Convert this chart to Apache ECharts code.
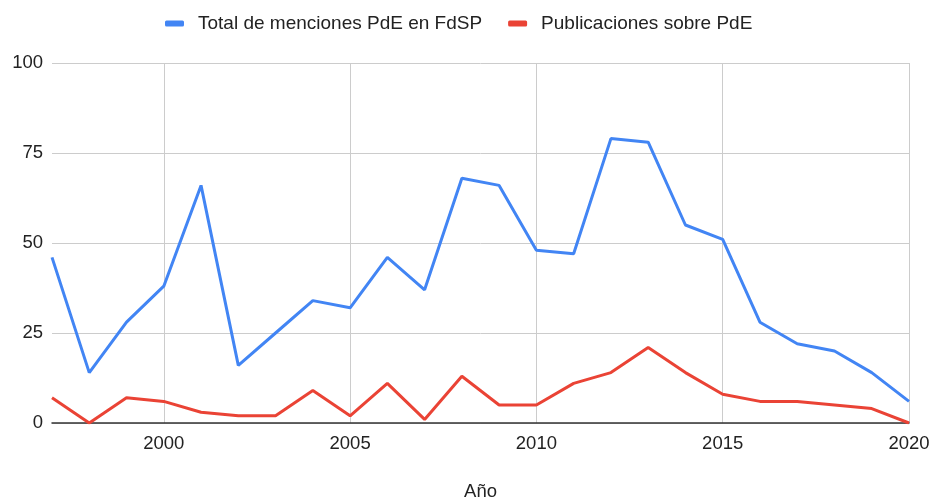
<!DOCTYPE html>
<html><head><meta charset="utf-8">
<script src="https://cdn.jsdelivr.net/npm/echarts@6/dist/echarts.min.js"></script>
<style>html,body{margin:0;padding:0;background:#fff}#c{width:933px;height:500px}</style>
</head><body><div id="c"></div>
<script>
const years = [1997,1998,1999,2000,2001,2002,2003,2004,2005,2006,2007,2008,2009,2010,2011,2012,2013,2014,2015,2016,2017,2018,2019,2020];
const totalMenciones = [46,14,28,38,66,16,25,34,32,46,37,68,66,48,47,79,78,55,51,28,22,20,14,6];
const publicaciones = [7,0,7,6,3,2,2,9,2,11,1,13,5,5,11,14,21,14,8,6,6,5,4,0];
const seriesNames = ['Total de menciones PdE en FdSP','Publicaciones sobre PdE'];
const yTicks = [0,25,50,75,100];

const FONT = 'Liberation Sans, Arial, sans-serif';
const chart = echarts.init(document.getElementById('c'), null, {renderer:'canvas'});
const showYear = (i, v) => Number(v) % 5 === 0;
chart.setOption({
  animation:false,
  textStyle:{fontFamily:FONT},
  legend:{
    top:9, left:160, itemGap:26, itemWidth:19, itemHeight:6, icon:'roundRect',
    textStyle:{fontSize:19, color:'#222', fontFamily:FONT, padding:[0,0,0,9]},
    data:seriesNames
  },
  grid:{left:52, right:24, top:63, bottom:77, containLabel:false, outerBoundsMode:'none'},
  xAxis:{
    type:'category', data:years.map(String), boundaryGap:false,
    name:'Año', nameLocation:'middle', nameGap:59,
    nameTextStyle:{fontSize:18.5, color:'#222', fontFamily:FONT},
    axisLine:{show:true, lineStyle:{color:'#333', width:1.5}},
    axisTick:{show:false},
    axisLabel:{interval:showYear, fontSize:18.5, color:'#222', margin:11, fontFamily:FONT},
    splitLine:{show:true, interval:showYear, lineStyle:{color:'#ccc', width:1}}
  },
  yAxis:{
    type:'value', min:yTicks[0], max:yTicks[yTicks.length-1], interval:25,
    axisLine:{show:false}, axisTick:{show:false},
    axisLabel:{fontSize:18.5, color:'#222', margin:9, fontFamily:FONT},
    splitLine:{lineStyle:{color:'#ccc', width:1}}
  },
  series:[
    {name:seriesNames[0], type:'line', data:totalMenciones, symbol:'none', lineStyle:{width:3, color:'#4285F4'}, itemStyle:{color:'#4285F4'}},
    {name:seriesNames[1], type:'line', data:publicaciones, symbol:'none', lineStyle:{width:3, color:'#EA4335'}, itemStyle:{color:'#EA4335'}}
  ]
});
</script></body></html>
